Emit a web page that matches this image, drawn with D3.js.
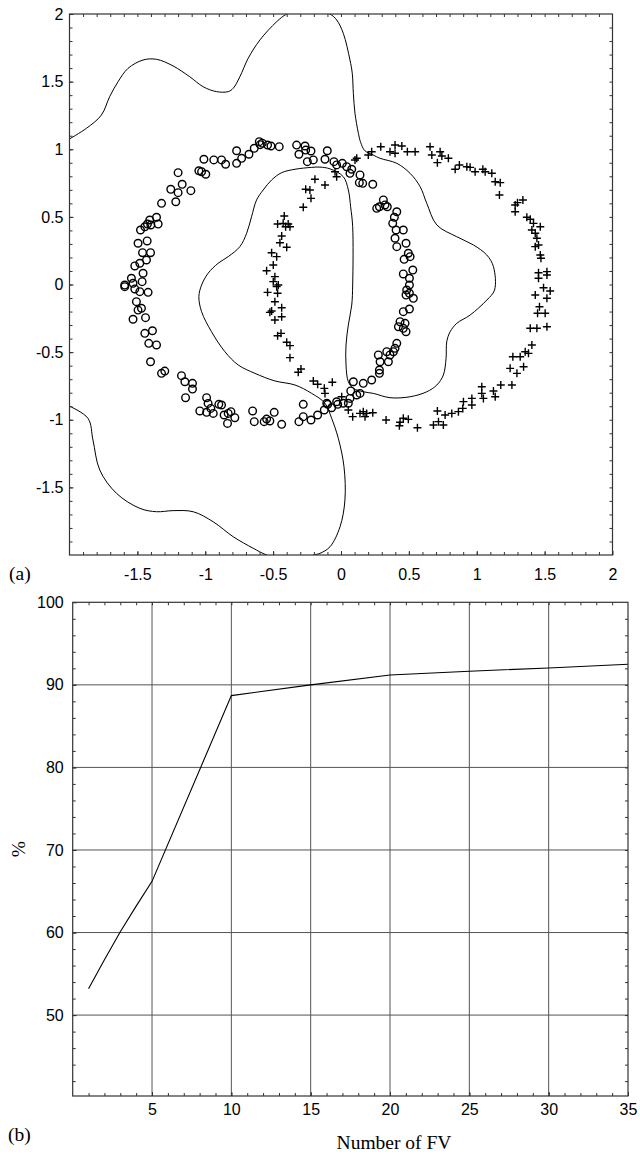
<!DOCTYPE html>
<html>
<head>
<meta charset="utf-8">
<script src="https://cdn.jsdelivr.net/npm/d3@7"></script>
<style>
    body { margin: 0; background: #fff; }
    svg { display: block; }
    .tick text { font-family: "Liberation Sans", Arial, Helvetica, sans-serif; font-size: 16px; fill: #000; }
    .serif { font-family: "Liberation Serif", "Times New Roman", serif; font-size: 19.5px; fill: #000; }
</style>
</head>
<body>
<svg id="chart" width="640" height="1157"></svg>
<script>
// (a) class "o" samples
const circlePoints = [
    [-0.602,1.056],[-0.595,1.034],[-0.580,1.045],[-0.541,1.031],[-0.516,1.024],[-0.455,1.019],[-0.327,1.031],[-0.265,1.024],
    [-0.260,0.994],[-0.310,0.963],[-0.221,0.987],[-0.248,0.908],[-0.204,0.921],[-0.101,0.989],[-0.118,0.926],[-0.052,0.908],
    [0.010,0.896],[-0.769,0.989],[-0.732,0.933],[-0.678,0.963],[-0.639,1.007],[-0.769,0.896],[-0.850,0.889],[-0.880,0.921],
    [-0.937,0.921],[-1.010,0.926],[-1.047,0.841],[-1.027,0.834],[-0.996,0.815],[-1.200,0.827],[-1.170,0.741],[-1.106,0.694],
    [-1.254,0.704],[-1.200,0.679],[-1.217,0.612],[-1.322,0.600],[-1.359,0.497],[-1.409,0.477],[-1.426,0.447],[-1.401,0.440],
    [-1.347,0.447],[-1.477,0.403],[-1.445,0.427],[-1.495,0.305],[-1.428,0.322],[-1.462,0.235],[-1.403,0.235],[-1.433,0.181],
    [-1.519,0.137],[-1.482,0.157],[-1.458,0.083],[-1.544,0.046],[-1.593,-0.004],[-1.532,0.009],[-1.465,0.021],
    [-1.593,-0.016],[-1.519,-0.033],[-1.482,-0.053],[-1.421,-0.058],[-1.507,-0.127],[-1.495,-0.189],[-1.470,-0.176],
    [-1.532,-0.257],[-1.440,-0.245],[-1.445,-0.361],[-1.389,-0.342],[-1.416,-0.435],[-1.359,-0.447],[-1.403,-0.571],
    [-1.322,-0.657],[-1.298,-0.640],[-1.175,-0.674],[-1.150,-0.719],[-1.094,-0.731],[-1.094,-0.773],[-1.145,-0.837],
    [-0.990,-0.837],[-0.979,-0.879],[-1.040,-0.935],[-0.990,-0.945],[-0.959,-0.916],[-0.941,-0.953],[-0.900,-0.886],
    [-0.880,-0.891],[-0.861,-0.965],[-0.831,-0.953],[-0.811,-0.940],[-0.782,-0.985],[-0.836,-1.027],[-0.651,-0.935],
    [-0.639,-1.014],[-0.566,-1.014],[-0.548,-0.995],[-0.524,-1.009],[-0.492,-0.945],[-0.437,-1.034],[-0.310,-1.014],
    [-0.278,-0.977],[-0.278,-0.886],[-0.221,-1.002],[-0.172,-0.965],[-0.123,-0.928],[-0.098,-0.886],[-0.069,-0.911],
    [-0.024,-0.886],[-0.105,-0.878],
    [-0.032,0.884],[0.042,0.871],[0.079,0.852],[0.066,0.822],[0.140,0.810],[0.135,0.753],[0.160,0.748],[0.234,0.741],
    [0.263,0.563],[0.283,0.575],[0.312,0.625],[0.324,0.588],[0.341,0.575],[0.411,0.538],[0.393,0.497],[0.381,0.452],
    [0.406,0.403],[0.459,0.403],[0.398,0.342],[0.411,0.280],[0.479,0.305],[0.496,0.231],[0.509,0.206],[0.465,0.186],
    [0.529,0.107],[0.459,0.078],[0.504,0.046],[0.504,-0.004],
    [0.484,-0.041],[0.504,-0.065],[0.533,-0.102],[0.479,-0.078],[0.504,-0.181],[0.459,-0.201],[0.435,-0.275],[0.472,-0.287],
    [0.459,-0.324],[0.479,-0.349],[0.423,-0.312],[0.411,-0.435],[0.398,-0.472],[0.386,-0.497],[0.361,-0.521],[0.337,-0.497],
    [0.275,-0.521],[0.288,-0.571],[0.349,-0.571],[0.283,-0.632],[0.283,-0.657],[0.226,-0.706],[0.164,-0.731],[0.091,-0.719],
    [0.072,-0.787],[0.140,-0.805],[0.116,-0.817],[0.066,-0.842],[0.054,-0.878],[0.017,-0.878],[-0.032,-0.867]
];

// (a) class "+" samples
const crossPoints = [
    [-0.192,0.778],[-0.118,0.736],[-0.260,0.704],[-0.229,0.699],[-0.221,0.637],[-0.278,0.571],[-0.044,0.834],[-0.032,0.797],
    [-0.418,0.506],[-0.467,0.447],[-0.426,0.452],[-0.389,0.447],[-0.408,0.427],[-0.376,0.427],[-0.437,0.359],[-0.400,0.275],
    [-0.450,0.309],[-0.511,0.235],[-0.474,0.206],[-0.499,0.144],[-0.548,0.102],[-0.487,0.058],[-0.499,0.021],[-0.462,-0.004],
    [-0.541,-0.058],[-0.474,-0.016],[-0.467,-0.065],[-0.487,-0.127],[-0.437,-0.172],[-0.524,-0.206],[-0.511,-0.196],
    [-0.437,-0.238],[-0.487,-0.262],[-0.467,-0.379],[-0.442,-0.361],[-0.400,-0.427],[-0.376,-0.452],[-0.376,-0.541],
    [-0.315,-0.649],[-0.295,-0.625],[-0.204,-0.713],[-0.172,-0.738],[-0.123,-0.768],[-0.064,-0.723],[-0.118,-0.805],
    [0.005,-0.830],[0.054,-0.928],[0.086,-0.977],[0.140,-0.953],[0.164,-0.940],[0.189,-0.953],[0.234,-0.948],[0.177,-0.977],
    [0.332,-1.002],[0.435,-1.019],[0.459,-0.989],[0.496,-0.997],[0.430,-1.044],[0.563,-1.059],[0.681,-1.039],[0.718,-1.014],
    [0.754,-1.039],[0.710,-0.935],[0.767,-0.965],[0.816,-0.953],[0.865,-0.940],[0.897,-0.916],[0.902,-0.866],[0.964,-0.842],
    [0.964,-0.891],[1.037,-0.756],[1.049,-0.842],[1.037,-0.805],[1.123,-0.787],[1.136,-0.830],[1.177,-0.743],[1.259,-0.743],
    [1.246,-0.620],[1.296,-0.657],[1.266,-0.534],[1.320,-0.534],[1.345,-0.608],[1.357,-0.497],[1.381,-0.509],[1.406,-0.447],
    [1.394,-0.324],[1.443,-0.324],[1.517,-0.312],[1.448,-0.213],[1.504,-0.213],[1.462,-0.164],[1.431,-0.078],[1.517,-0.102],
    [1.541,-0.048],[1.492,-0.024],
    [0.116,0.933],[0.103,0.921],[0.201,0.957],[0.226,0.982],[0.293,1.019],[0.361,0.982],[0.398,1.031],[0.398,0.970],
    [0.448,1.024],[0.489,0.982],[0.546,0.982],[0.656,1.019],[0.669,0.957],[0.730,0.982],[0.743,0.950],[0.791,0.933],
    [0.710,0.901],[0.841,0.852],[0.872,0.884],[0.927,0.871],[0.951,0.866],[0.988,0.834],[1.045,0.852],[1.062,0.834],
    [1.111,0.822],[1.136,0.760],[1.173,0.753],[1.167,0.662],[1.283,0.588],[1.300,0.605],[1.340,0.625],[1.283,0.538],
    [1.369,0.497],[1.394,0.482],[1.418,0.452],[1.468,0.427],[1.406,0.403],[1.431,0.379],[1.443,0.342],[1.431,0.280],
    [1.455,0.292],[1.468,0.218],[1.473,0.194],[1.455,0.087],[1.517,0.095],[1.517,0.070],[1.455,0.046]
];

// (a) decision boundary (leaves the frame at top and bottom)
const boundary = [
    [-2.004,1.074],[-1.875,1.155],[-1.765,1.253],[-1.704,1.389],[-1.642,1.500],[-1.569,1.598],[-1.458,1.660],[-1.359,1.665],
    [-1.237,1.616],[-1.114,1.536],[-1.015,1.462],[-0.917,1.426],[-0.831,1.426],[-0.794,1.451],[-0.745,1.536],[-0.684,1.672],
    [-0.597,1.808],[-0.474,1.943],[-0.400,2.000],[-0.240,2.060],[-0.081,2.000],[-0.032,1.956],[0.017,1.857],[0.066,1.660],
    [0.083,1.561],[0.091,1.414],[0.103,1.266],[0.128,1.118],[0.145,1.050],[0.175,0.990],[0.238,0.957],[0.288,0.933],
    [0.411,0.896],[0.509,0.822],[0.583,0.723],[0.632,0.600],[0.706,0.440],[0.853,0.353],[0.976,0.292],[1.074,0.218],
    [1.123,0.132],[1.131,-0.041],[1.074,-0.115],[0.951,-0.226],[0.853,-0.287],[0.804,-0.349],[0.779,-0.423],[0.774,-0.546],
    [0.754,-0.669],[0.706,-0.743],[0.632,-0.793],[0.509,-0.830],[0.361,-0.837],[0.238,-0.805],[0.164,-0.793],[0.091,-0.768],
    [0.054,-0.719],[0.037,-0.595],[0.037,-0.447],[0.054,-0.299],[0.079,-0.152],[0.086,-0.004],[0.086,0.427],[0.071,0.575],
    [0.054,0.699],[0.017,0.797],[-0.081,0.855],[-0.155,0.868],[-0.216,0.866],[-0.339,0.852],[-0.437,0.827],[-0.511,0.773],
    [-0.573,0.699],[-0.622,0.625],[-0.659,0.501],[-0.695,0.379],[-0.745,0.280],[-0.831,0.206],[-0.905,0.157],[-0.979,0.083],
    [-1.027,-0.004],[-1.047,-0.090],[-1.027,-0.201],[-0.954,-0.349],[-0.855,-0.497],[-0.757,-0.595],[-0.634,-0.657],
    [-0.487,-0.713],[-0.339,-0.743],[-0.216,-0.805],[-0.118,-0.878],[-0.069,-0.989],[-0.020,-1.137],[0.022,-1.347],
    [0.029,-1.593],[-0.007,-1.791],[-0.081,-1.939],[-0.155,-1.988],[-0.200,-2.000],[-0.350,-2.060],[-0.548,-2.000],
    [-0.647,-1.950],[-0.794,-1.865],[-0.942,-1.754],[-1.089,-1.680],[-1.237,-1.672],[-1.359,-1.680],[-1.482,-1.655],
    [-1.654,-1.544],[-1.777,-1.372],[-1.827,-1.150],[-1.864,-0.989],[-2.004,-0.898]
];

const scatterTicks = [-1.5, -1, -0.5, 0, 0.5, 1, 1.5, 2];

// (b) recognition rate vs number of feature vectors
const numFV = [1, 2, 3, 4, 5, 10, 15, 20, 25, 30, 35];
const ratePct = [53.2, 56.7, 60.1, 63.2, 66.2, 88.7, 90.0, 91.2, 91.65, 92.05, 92.5];
const fvTicks = [5, 10, 15, 20, 25, 30, 35];
const pctTicks = [50, 60, 70, 80, 90, 100];

document.addEventListener("DOMContentLoaded", function() {
    const svg = d3.select("#chart");
    const frameColor = "#333";
    const plainLabel = d => String(d); // keeps the ASCII hyphen for negatives

    // draws inward ticks on all four sides, labels only on left and bottom
    function drawFrame(g, x, y, major, minor, pad) {
        const [x0, x1] = x.range();
        const [y0, y1] = y.range();

        g.append("g")
            .attr("transform", `translate(0,${y0})`)
            .call(d3.axisBottom(x).tickValues(minor.x).tickSize(-3).tickFormat(""));
        g.append("g")
            .attr("transform", `translate(0,${y0})`)
            .call(d3.axisBottom(x).tickValues(major.x).tickSize(-4).tickPadding(pad.x).tickFormat(plainLabel));
        g.append("g")
            .attr("transform", `translate(0,${y1})`)
            .call(d3.axisTop(x).tickValues(minor.x).tickSize(-3).tickFormat(""));

        g.append("g")
            .attr("transform", `translate(${x0},0)`)
            .call(d3.axisLeft(y).tickValues(minor.y).tickSize(-3).tickFormat(""));
        g.append("g")
            .attr("transform", `translate(${x0},0)`)
            .call(d3.axisLeft(y).tickValues(major.y).tickSize(-4).tickPadding(pad.y).tickFormat(plainLabel));
        g.append("g")
            .attr("transform", `translate(${x1},0)`)
            .call(d3.axisRight(y).tickValues(minor.y).tickSize(-3).tickFormat(""));

        g.selectAll(".domain").remove();
        g.selectAll(".tick line").attr("stroke", frameColor);

        g.append("rect")
            .attr("x", x0).attr("y", y1)
            .attr("width", x1 - x0).attr("height", y0 - y1)
            .attr("fill", "none")
            .attr("stroke", frameColor)
            .attr("stroke-width", 1.2);
    }

    // ---------- (a) scatter ----------
    const xa = d3.scaleLinear().domain([-2, 2]).range([69.5, 612.5]);
    const ya = d3.scaleLinear().domain([-2, 2]).range([555, 14]);
    const ga = svg.append("g");

    ga.append("clipPath").attr("id", "clip-a")
        .append("rect")
        .attr("x", 69.5).attr("y", 14)
        .attr("width", 543).attr("height", 541);

    ga.append("path")
        .datum(boundary)
        .attr("clip-path", "url(#clip-a)")
        .attr("fill", "none")
        .attr("stroke", "#000")
        .attr("stroke-width", 1)
        .attr("d", d3.line().x(d => xa(d[0])).y(d => ya(d[1])).curve(d3.curveCatmullRom.alpha(0.5)));

    ga.selectAll("circle.obs")
        .data(circlePoints)
        .enter().append("circle")
        .attr("class", "obs")
        .attr("cx", d => xa(d[0]))
        .attr("cy", d => ya(d[1]))
        .attr("r", 3.8)
        .attr("fill", "none")
        .attr("stroke", "#000")
        .attr("stroke-width", 1.4);

    ga.selectAll("path.plus")
        .data(crossPoints)
        .enter().append("path")
        .attr("class", "plus")
        .attr("transform", d => `translate(${xa(d[0])},${ya(d[1])})`)
        .attr("d", "M-4,0H4M0,-4V4")
        .attr("stroke", "#000")
        .attr("stroke-width", 1.4);

    const minorA = d3.range(-19, 20).map(i => i / 10);
    drawFrame(ga, xa, ya,
        { x: scatterTicks, y: [-1.5, -1, -0.5, 0, 0.5, 1, 1.5, 2] },
        { x: minorA, y: minorA },
        { x: 13.5, y: 6 });

    ga.append("text")
        .attr("class", "serif")
        .attr("x", 9).attr("y", 580)
        .text("(a)");

    // ---------- (b) line chart ----------
    const xb = d3.scaleLinear().domain([0, 35]).range([72.7, 628]);
    const yb = d3.scaleLinear().domain([40.2, 100]).range([1096, 602.3]);
    const gb = svg.append("g");

    // grid
    gb.selectAll("line.vgrid")
        .data(fvTicks.filter(d => d < 35))
        .enter().append("line")
        .attr("class", "vgrid")
        .attr("x1", d => xb(d)).attr("x2", d => xb(d))
        .attr("y1", yb(40.2)).attr("y2", yb(100))
        .attr("stroke", "#555").attr("stroke-width", 1);
    gb.selectAll("line.hgrid")
        .data(pctTicks.filter(d => d < 100))
        .enter().append("line")
        .attr("class", "hgrid")
        .attr("x1", xb(0)).attr("x2", xb(35))
        .attr("y1", d => yb(d)).attr("y2", d => yb(d))
        .attr("stroke", "#555").attr("stroke-width", 1);

    gb.append("path")
        .datum(numFV.map((n, i) => [n, ratePct[i]]))
        .attr("fill", "none")
        .attr("stroke", "#000")
        .attr("stroke-width", 1.1)
        .attr("d", d3.line().x(d => xb(d[0])).y(d => yb(d[1])));

    drawFrame(gb, xb, yb,
        { x: fvTicks, y: pctTicks },
        { x: d3.range(1, 35), y: d3.range(42, 100, 2) },
        { x: 8, y: 9 });

    gb.append("text")
        .attr("class", "serif")
        .attr("x", 8).attr("y", 1141)
        .text("(b)");

    gb.append("text")
        .attr("class", "serif")
        .attr("x", 394).attr("y", 1149)
        .attr("text-anchor", "middle")
        .text("Number of FV");

    gb.append("text")
        .attr("class", "serif")
        .attr("transform", "translate(25,849) rotate(-90)")
        .attr("text-anchor", "middle")
        .text("%");
});
</script>
</body>
</html>
